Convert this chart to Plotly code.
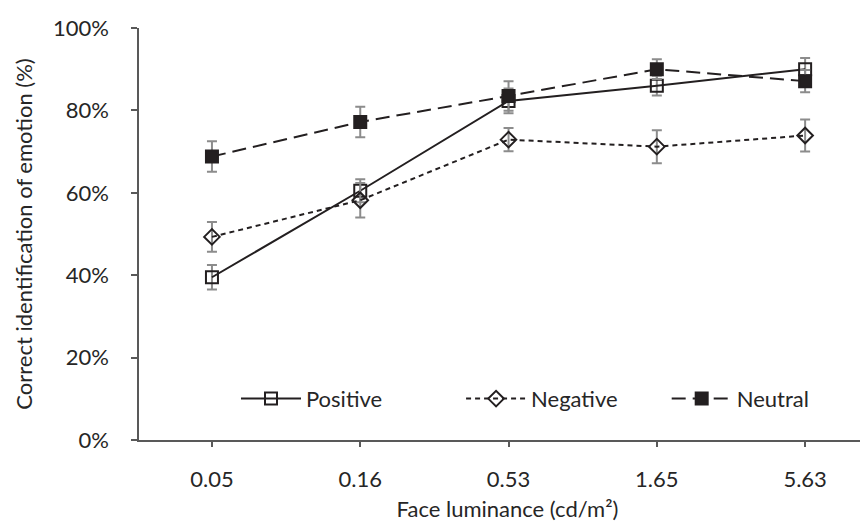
import plotly.graph_objects as go

categories = ["0.05", "0.16", "0.53", "1.65", "5.63"]
positive = [39.5, 60.5, 82.3, 86.0, 90.0]
positive_err = [3.0, 2.8, 3.0, 2.4, 2.7]
negative = [49.3, 58.2, 72.9, 71.2, 73.9]
negative_err = [3.6, 4.2, 2.8, 4.0, 3.9]
neutral = [68.8, 77.2, 83.5, 90.0, 87.1]
neutral_err = [3.7, 3.7, 3.6, 2.4, 2.7]
y_ticks = [0, 20, 40, 60, 80, 100]
y_tick_labels = ["0%", "20%", "40%", "60%", "80%", "100%"]

FONT = "Lato"
INK = "#231f20"
ERR = "#8c8c8c"
TXT = "#262626"

fig = go.Figure()

def add(name, vals, errs, symbol, dash, legend):
    fig.add_trace(go.Scatter(
        x=categories, y=vals, name=name, mode="lines+markers",
        line=dict(color=INK, width=2, dash=dash),
        marker=dict(symbol=symbol, size=12, color=INK,
                    line=dict(color=INK, width=2)),
        error_y=dict(type="data", array=errs, visible=True,
                     color=ERR, thickness=2, width=5),
        legend=legend,
    ))

add("Positive", positive, positive_err, "square-open", "solid", "legend")
add("Negative", negative, negative_err, "diamond-open", "5px,4px", "legend2")
add("Neutral", neutral, neutral_err, "square", "14px,7px", "legend3")

leg_common = dict(orientation="h", yanchor="middle", y=0.1, xanchor="left",
                  font=dict(family=FONT, size=22, color=TXT),
                  bgcolor="rgba(0,0,0,0)", itemwidth=60, borderwidth=0)

fig.update_layout(
    width=868, height=521,
    margin=dict(l=131, r=0, t=20, b=89),
    paper_bgcolor="white", plot_bgcolor="white",
    font=dict(family=FONT, size=22, color=TXT),
    showlegend=True,
    legend=dict(x=0.1316, **leg_common),
    legend2=dict(x=0.437, **leg_common),
    legend3=dict(x=0.716, **leg_common),
    xaxis=dict(
        type="category", range=[-0.492, 4.478],
        showline=True, linecolor="#595959", linewidth=1.5,
        ticks="outside", ticklen=5, tickcolor="#595959", tickwidth=1.5,
        showgrid=False, zeroline=False, ticklabelstandoff=14,
        tickfont=dict(family=FONT, size=22, color=TXT),
        title=dict(text="Face luminance (cd/m²)", standoff=10,
                   font=dict(family=FONT, size=22, color=TXT)),
    ),
    yaxis=dict(
        range=[0, 100], tickvals=y_ticks, ticktext=y_tick_labels,
        showline=True, linecolor="#595959", linewidth=1.5,
        ticks="outside", ticklen=6, tickcolor="#595959", tickwidth=1.5,
        showgrid=False, zeroline=False, ticklabelstandoff=18,
        tickfont=dict(family=FONT, size=22, color=TXT),
        title=dict(text="Correct identification of emotion (%)", standoff=14,
                   font=dict(family=FONT, size=22, color=TXT)),
    ),
)

fig.write_html("out.html")
